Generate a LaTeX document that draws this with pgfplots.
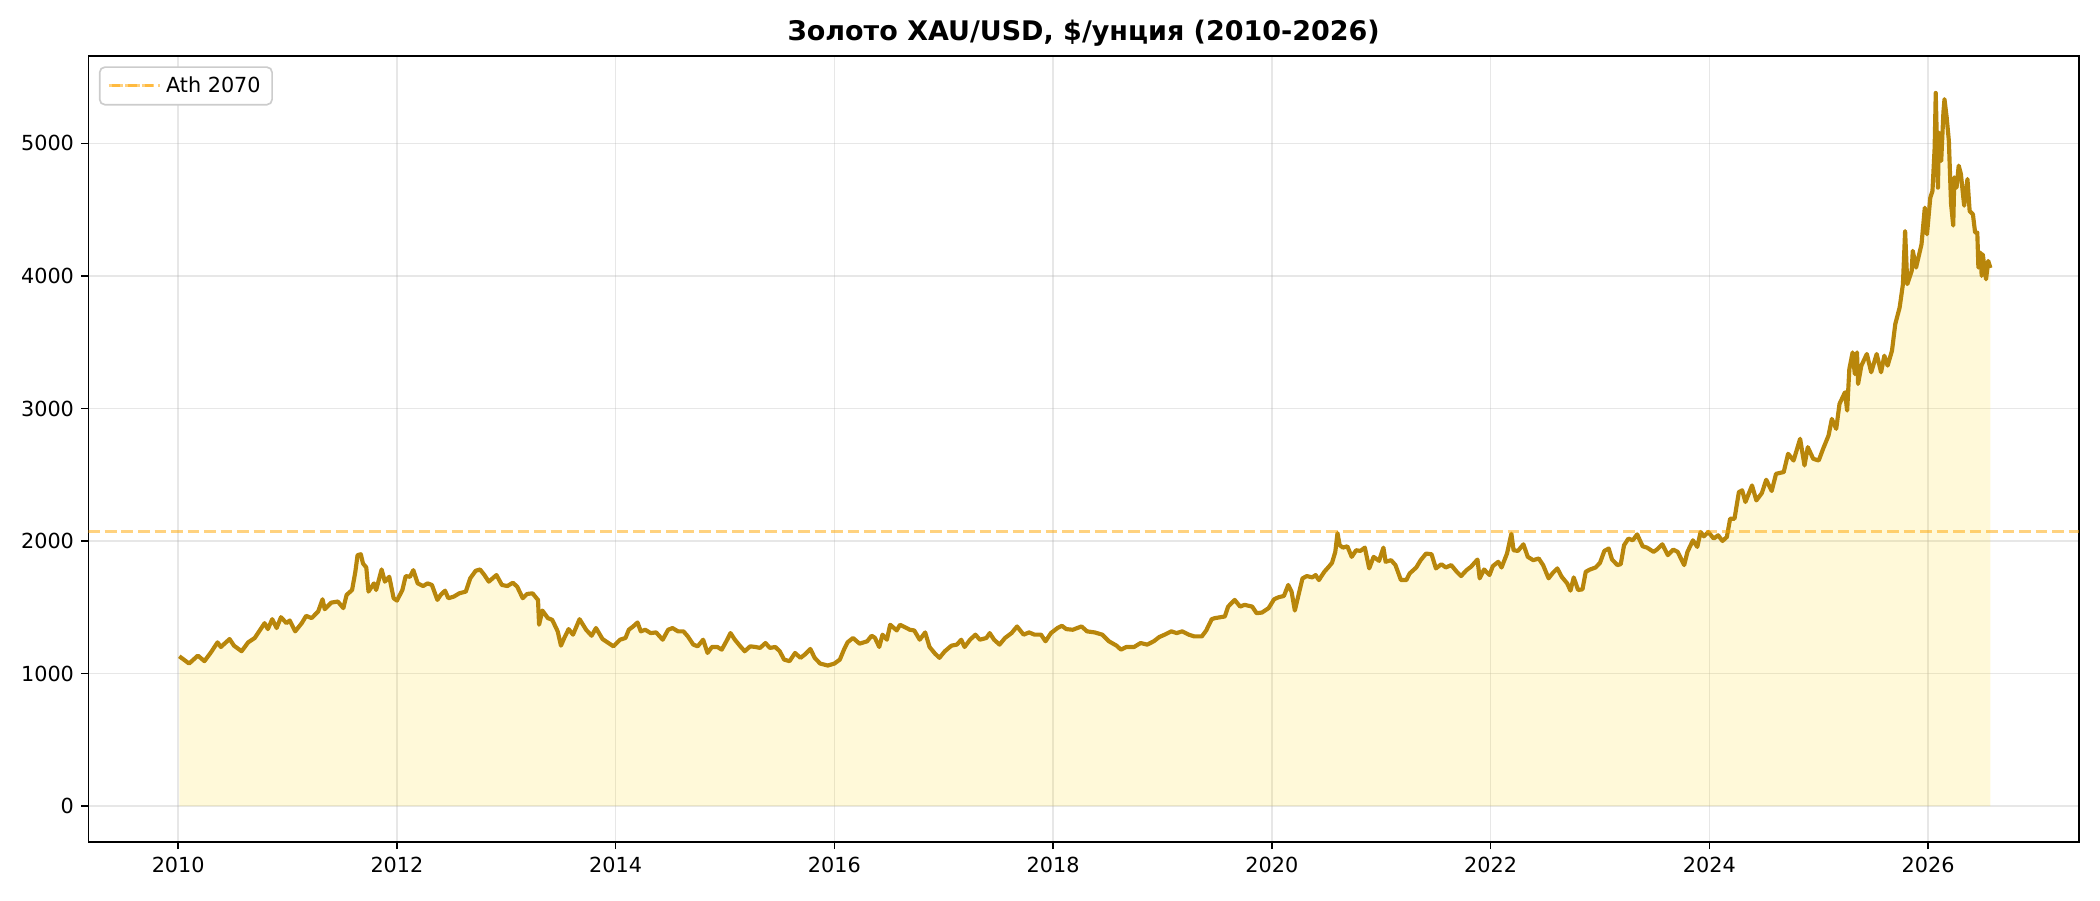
\documentclass[border=0pt]{standalone}
\usepackage{pgfplots}
\usepackage{pgfplotstable}
\pgfplotsset{compat=1.18}
\usepackage{fontspec}
\setmainfont{DejaVu Sans}
\definecolor{linegold}{HTML}{B8860B}
\definecolor{fillgold}{HTML}{FFD700}
\definecolor{athorange}{HTML}{FFA500}
\definecolor{gridc}{HTML}{B0B0B0}
\pgfplotstableread{
t v
2010.01 1130
2010.10 1075
2010.18 1135
2010.24 1093
2010.30 1160
2010.36 1235
2010.39 1200
2010.47 1260
2010.51 1210
2010.58 1168
2010.64 1235
2010.70 1268
2010.79 1380
2010.82 1335
2010.86 1410
2010.90 1343
2010.94 1425
2010.99 1380
2011.02 1400
2011.07 1318
2011.13 1380
2011.17 1435
2011.22 1418
2011.28 1468
2011.32 1560
2011.34 1485
2011.40 1535
2011.46 1543
2011.51 1493
2011.54 1593
2011.59 1630
2011.62 1768
2011.64 1893
2011.67 1900
2011.69 1830
2011.72 1800
2011.74 1618
2011.79 1680
2011.81 1630
2011.86 1785
2011.89 1693
2011.93 1730
2011.97 1568
2012.00 1550
2012.05 1630
2012.08 1735
2012.12 1730
2012.15 1780
2012.19 1680
2012.24 1660
2012.28 1680
2012.32 1668
2012.37 1555
2012.40 1593
2012.44 1625
2012.47 1568
2012.52 1580
2012.57 1605
2012.63 1618
2012.67 1718
2012.72 1775
2012.76 1785
2012.80 1743
2012.84 1693
2012.91 1743
2012.96 1668
2013.01 1660
2013.06 1685
2013.10 1655
2013.15 1568
2013.19 1600
2013.24 1605
2013.29 1555
2013.30 1368
2013.33 1475
2013.38 1418
2013.42 1405
2013.47 1318
2013.50 1210
2013.53 1268
2013.57 1335
2013.61 1293
2013.67 1410
2013.73 1330
2013.78 1285
2013.82 1343
2013.88 1260
2013.98 1205
2014.04 1255
2014.09 1268
2014.12 1330
2014.16 1355
2014.20 1385
2014.23 1318
2014.27 1330
2014.32 1305
2014.37 1310
2014.43 1255
2014.48 1330
2014.52 1343
2014.57 1318
2014.62 1318
2014.66 1280
2014.71 1218
2014.75 1205
2014.80 1255
2014.84 1155
2014.88 1200
2014.93 1200
2014.97 1180
2015.02 1255
2015.05 1305
2015.09 1255
2015.14 1205
2015.18 1168
2015.23 1205
2015.28 1200
2015.32 1193
2015.37 1230
2015.41 1193
2015.46 1200
2015.50 1168
2015.54 1105
2015.59 1093
2015.64 1155
2015.69 1118
2015.73 1143
2015.78 1185
2015.82 1118
2015.87 1075
2015.94 1060
2016.00 1075
2016.05 1105
2016.09 1185
2016.12 1235
2016.17 1268
2016.23 1225
2016.30 1243
2016.34 1285
2016.37 1270
2016.41 1200
2016.44 1293
2016.48 1255
2016.51 1368
2016.57 1325
2016.60 1368
2016.66 1343
2016.69 1330
2016.73 1325
2016.78 1255
2016.83 1310
2016.87 1200
2016.92 1150
2016.96 1118
2017.01 1168
2017.07 1210
2017.12 1218
2017.16 1255
2017.19 1200
2017.24 1255
2017.29 1293
2017.33 1255
2017.39 1268
2017.42 1305
2017.46 1255
2017.51 1218
2017.56 1268
2017.62 1305
2017.67 1355
2017.73 1293
2017.78 1310
2017.83 1293
2017.89 1293
2017.93 1243
2017.98 1305
2018.04 1343
2018.08 1360
2018.12 1335
2018.18 1330
2018.22 1343
2018.26 1355
2018.31 1318
2018.38 1310
2018.45 1293
2018.51 1243
2018.58 1210
2018.62 1180
2018.67 1200
2018.74 1200
2018.80 1230
2018.86 1218
2018.92 1243
2018.97 1275
2019.02 1293
2019.08 1318
2019.13 1305
2019.18 1318
2019.24 1293
2019.29 1280
2019.36 1280
2019.40 1325
2019.45 1410
2019.48 1418
2019.57 1430
2019.60 1505
2019.66 1555
2019.71 1505
2019.75 1518
2019.82 1505
2019.86 1455
2019.91 1460
2019.97 1493
2020.02 1560
2020.06 1575
2020.11 1585
2020.15 1668
2020.18 1618
2020.21 1475
2020.24 1580
2020.28 1718
2020.32 1735
2020.37 1725
2020.40 1743
2020.43 1705
2020.48 1768
2020.52 1805
2020.55 1835
2020.58 1918
2020.60 2060
2020.62 1968
2020.65 1950
2020.69 1960
2020.73 1880
2020.77 1930
2020.81 1925
2020.85 1950
2020.89 1793
2020.93 1880
2020.98 1850
2021.02 1950
2021.04 1843
2021.09 1855
2021.13 1818
2021.18 1705
2021.23 1705
2021.26 1755
2021.32 1800
2021.36 1855
2021.41 1905
2021.46 1900
2021.50 1793
2021.55 1825
2021.59 1800
2021.64 1818
2021.69 1768
2021.73 1735
2021.78 1780
2021.82 1805
2021.88 1860
2021.90 1718
2021.94 1785
2021.99 1743
2022.02 1810
2022.07 1843
2022.10 1800
2022.15 1905
2022.19 2055
2022.21 1930
2022.25 1925
2022.30 1975
2022.34 1880
2022.39 1855
2022.44 1868
2022.48 1818
2022.53 1718
2022.57 1760
2022.61 1793
2022.65 1730
2022.70 1680
2022.73 1625
2022.76 1725
2022.80 1630
2022.84 1635
2022.87 1768
2022.91 1785
2022.96 1800
2023.00 1835
2023.04 1925
2023.08 1943
2023.11 1860
2023.16 1818
2023.19 1825
2023.22 1968
2023.26 2018
2023.30 2005
2023.34 2050
2023.39 1960
2023.43 1950
2023.49 1918
2023.52 1935
2023.57 1975
2023.62 1893
2023.67 1935
2023.71 1918
2023.77 1818
2023.80 1918
2023.85 2005
2023.89 1955
2023.92 2068
2023.95 2035
2023.99 2068
2024.04 2018
2024.08 2043
2024.12 2000
2024.16 2030
2024.19 2168
2024.23 2168
2024.27 2369
2024.30 2382
2024.33 2294
2024.39 2419
2024.43 2306
2024.48 2361
2024.52 2462
2024.57 2377
2024.61 2507
2024.68 2520
2024.72 2658
2024.77 2607
2024.83 2771
2024.87 2570
2024.90 2708
2024.95 2620
2025.00 2607
2025.04 2695
2025.09 2796
2025.12 2921
2025.16 2846
2025.19 3034
2025.24 3122
2025.26 2984
2025.28 3298
2025.31 3423
2025.33 3260
2025.35 3423
2025.36 3185
2025.39 3323
2025.44 3411
2025.48 3273
2025.53 3411
2025.57 3273
2025.60 3398
2025.63 3323
2025.67 3436
2025.70 3637
2025.74 3762
2025.77 3938
2025.79 4339
2025.81 3938
2025.85 4038
2025.86 4189
2025.89 4063
2025.94 4239
2025.97 4515
2025.99 4314
2026.02 4590
2026.04 4640
2026.06 4967
2026.07 5381
2026.09 4666
2026.10 5081
2026.12 4868
2026.14 5232
2026.15 5334
2026.17 5196
2026.19 5020
2026.21 4543
2026.23 4380
2026.24 4744
2026.26 4666
2026.28 4832
2026.30 4769
2026.33 4530
2026.36 4731
2026.38 4490
2026.41 4465
2026.43 4327
2026.45 4327
2026.46 4063
2026.48 4176
2026.49 4000
2026.50 4163
2026.53 3975
2026.55 4113
2026.57 4060
}\gold
\begin{document}
\begin{tikzpicture}
\begin{axis}[
  scale only axis,
  width=13.27in, height=5.239in,
  xmin=2009.18, xmax=2027.38,
  ymin=-270, ymax=5660,
  xtick={2010,2012,...,2026},
  ytick={0,1000,...,5000},
  /pgf/number format/1000 sep={},
  /pgf/number format/assume math mode=true,
  tick label style={font=\fontsize{10}{12}\selectfont, text=black},
  tick align=outside,
  major tick length=3.5pt,
  tick style={black, line width=0.8pt},
  tick pos=left,
  axis line style={line width=0.8pt, black},
  grid=major,
  major grid style={gridc, opacity=0.3, line width=0.8pt},
  xticklabel style={yshift=-0.5pt},
  title={\textbf{Золото XAU/USD, \$/унция (2010-2026)}},
  title style={font=\fontsize{13}{15}\selectfont, at={(0.5,1)}, anchor=base, yshift=1.5pt},
  legend style={at={(0,1)}, anchor=north west, xshift=5pt, yshift=-5pt,
    draw=black!20, line width=0.8pt, rounded corners=2.5pt,
    inner xsep=3.5pt, inner ysep=2.5pt,
    font=\fontsize{10}{12}\selectfont},
  legend cell align=left,
  legend image code/.code={\path (0pt,0pt) -- (25pt,0pt);\draw[#1] (1.5pt,0pt) -- (22pt,0pt);},
]
\addplot[draw=none, fill=fillgold, fill opacity=0.15, forget plot] table[x=t, y=v] {\gold} \closedcycle;
\addplot[linegold, line width=2pt, line join=round, forget plot] table[x=t, y=v] {\gold};
\addplot[athorange, draw opacity=0.5, line width=1.5pt, dash pattern=on 5.55pt off 2.4pt] coordinates {(2009.18,2070) (2027.38,2070)};
\addlegendentry{Ath 2070}
\end{axis}
\pgfresetboundingbox
\path (current axis.south west) ++(-0.59in,-0.388in) rectangle ++(14in,6in);
\end{tikzpicture}
\end{document}
